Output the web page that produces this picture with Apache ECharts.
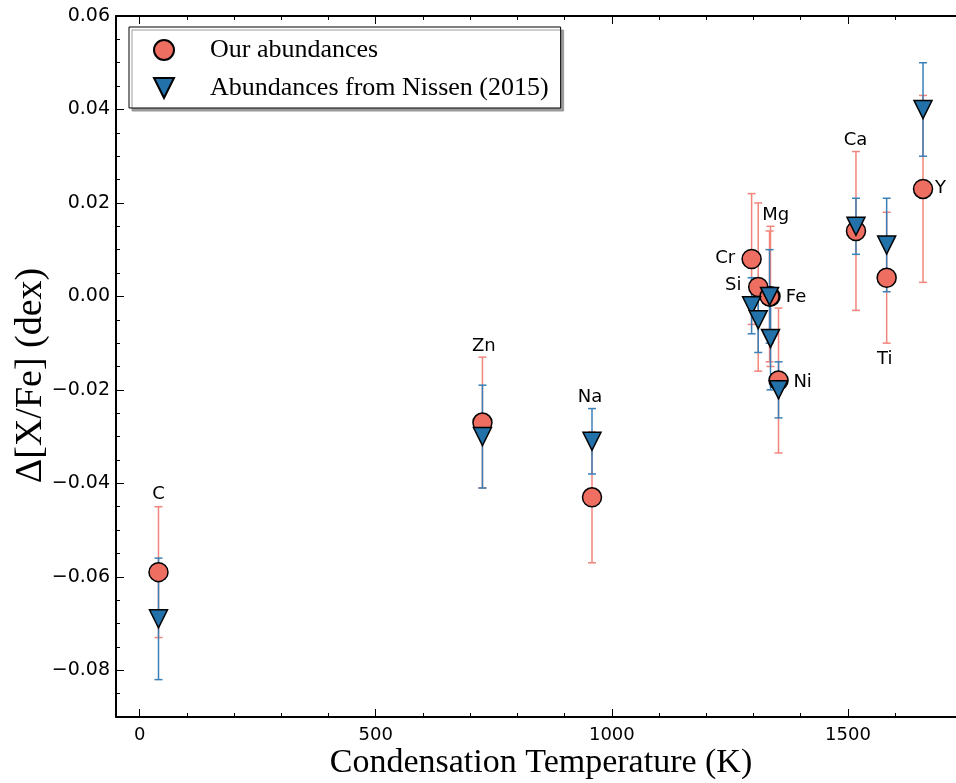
<!DOCTYPE html>
<html>
<head>
<meta charset="utf-8">
<script src="https://cdn.jsdelivr.net/npm/echarts@6/dist/echarts.min.js"></script>
<style>html,body{margin:0;padding:0;background:#fff}#chart{width:956px;height:783px}</style>
</head>
<body>
<div id="chart"></div>
<script>
// ---- data ----
const elements = ['C','Zn','Na','Cr','Si','Mg','Fe','Ni','Ca','Ti','Y'];
const tcond    = [40, 726, 958, 1296, 1310, 1336, 1334, 1353, 1517, 1582, 1659];
const ourVal   = [-0.059, -0.027, -0.043, 0.008, 0.002, 0.000, 0.000, -0.018, 0.014, 0.004, 0.023];
const ourErr   = [0.014, 0.014, 0.014, 0.014, 0.018, 0.015, 0.014, 0.0155, 0.017, 0.014, 0.020];
const nisVal   = [-0.069, -0.030, -0.031, -0.002, -0.005, -0.009, 0.000, -0.020, 0.015, 0.011, 0.040];
const nisErr   = [0.013, 0.011, 0.007, 0.006, 0.007, 0.011, 0.010, 0.006, 0.006, 0.010, 0.010];
// element label anchor positions (data coordinates)
const labelX   = [40, 729, 954, 1240, 1257, 1347, 1390, 1404, 1516, 1578, 1696];
const labelY   = [-0.0423, -0.0106, -0.0215, 0.0082, 0.0024, 0.0174, -0.0003, -0.0183, 0.0335, -0.0134, 0.0232];
// axes ticks
const xMajor = [0, 500, 1000, 1500];
const xMinor = [100, 200, 300, 400, 600, 700, 800, 900, 1100, 1200, 1300, 1400, 1600];
const yMajor = [-0.08, -0.06, -0.04, -0.02, 0.00, 0.02, 0.04, 0.06];
const yMinor = [-0.085, -0.075, -0.07, -0.065, -0.055, -0.05, -0.045, -0.035, -0.03, -0.025,
                -0.015, -0.01, -0.005, 0.005, 0.01, 0.015, 0.025, 0.03, 0.035, 0.045, 0.05, 0.055];
const seriesNames = ['Our abundances', 'Abundances from Nissen (2015)'];

// ---- styles ----
const RED = '#EE6E62', RED_BAR = '#F2857B';
const BLUE = '#2271A8', BLUE_BAR = '#3A7FB6';
const TRI = 'path://M0,0 L10,0 L5,10 Z';
const X0 = -50, X1 = 1750, Y0 = -0.09, Y1 = 0.06;

const fmtY = v => (v < 0 ? '\u2212' : '') + Math.abs(v).toFixed(2);
const fmtX = v => String(Math.round(v));

function errData(vals, errs) {
  return tcond.map((t, i) => [t, vals[i] - errs[i], vals[i] + errs[i]]);
}
function errRender(color) {
  return function (params, api) {
    const x = api.value(0), lo = api.value(1), hi = api.value(2);
    const a = api.coord([x, hi]), b = api.coord([x, lo]);
    const hw = 4;
    const st = { stroke: color, lineWidth: 1.5 };
    return { type: 'group', children: [
      { type: 'line', shape: { x1: a[0], y1: a[1], x2: b[0], y2: b[1] }, style: st },
      { type: 'line', shape: { x1: a[0] - hw, y1: a[1], x2: a[0] + hw, y2: a[1] }, style: st },
      { type: 'line', shape: { x1: b[0] - hw, y1: b[1], x2: b[0] + hw, y2: b[1] }, style: st }
    ]};
  };
}

const axisLineStyle = { lineStyle: { color: '#000', width: 2 } };
function xAx(pos, major, showLine) {
  return {
    type: 'value', min: X0, max: X1, position: pos,
    axisLine: { show: showLine, ...axisLineStyle, onZero: false },
    axisTick: { show: true, inside: true, length: major ? 8 : 4, customValues: major ? xMajor : xMinor,
                lineStyle: { color: '#000', width: 1 } },
    axisLabel: { show: major && pos === 'bottom', customValues: xMajor, formatter: fmtX, color: '#000', fontSize: 18,
                 fontFamily: 'DejaVu Sans', margin: 9 },
    splitLine: { show: false }
  };
}
function yAx(major) {
  return {
    type: 'value', min: Y0, max: Y1, position: 'left',
    axisLine: { show: major, ...axisLineStyle, onZero: false },
    axisTick: { show: true, inside: true, length: major ? 8 : 4, customValues: major ? yMajor : yMinor,
                lineStyle: { color: '#000', width: 1 } },
    axisLabel: { show: major, customValues: yMajor, formatter: fmtY, color: '#000', fontSize: 19,
                 fontFamily: 'DejaVu Sans', margin: 6 },
    splitLine: { show: false }
  };
}

const xAxes = [xAx('bottom', true, true), xAx('bottom', false, false), xAx('top', true, true), xAx('top', false, false)];
xAxes[0].name = 'Condensation Temperature (K)';
xAxes[0].nameLocation = 'middle';
xAxes[0].nameGap = 29;
xAxes[0].nameMoveOverlap = false;
xAxes[0].nameTextStyle = { fontFamily: 'Liberation Serif', fontSize: 34, color: '#000', verticalAlign: 'top' };
const yAxes = [yAx(true), yAx(false)];
yAxes[0].name = '\u0394[X/Fe] (dex)';
yAxes[0].nameLocation = 'middle';
yAxes[0].nameGap = 66;
yAxes[0].nameMoveOverlap = false;
yAxes[0].nameTextStyle = { fontFamily: 'Liberation Serif', fontSize: 38, color: '#000', padding: [0, 18, 0, 0] };

const chart = echarts.init(document.getElementById('chart'), null, { renderer: 'canvas' });
chart.setOption({
  animation: false,
  backgroundColor: '#fff',
  grid: { left: 116, right: -10, top: 16, bottom: 66, containLabel: false, outerBoundsMode: 'none' },
  xAxis: xAxes,
  yAxis: yAxes,
  legend: {
    data: seriesNames,
    orient: 'vertical', left: 129, top: 27,
    padding: [10, 12, 7, 24],
    itemWidth: 20, itemHeight: 20, itemGap: 12,
    backgroundColor: '#fff', borderColor: '#000', borderWidth: 1,
    shadowColor: '#9a9a9a', shadowBlur: 0, shadowOffsetX: 3, shadowOffsetY: 3,
    textStyle: { fontFamily: 'Liberation Serif', fontSize: 26, color: '#000', padding: [0, 0, 0, 31],
                 lineHeight: 20, height: 20 }
  },
  series: [
    { type: 'custom', name: 'ourErr', renderItem: errRender(RED_BAR), data: errData(ourVal, ourErr),
      encode: { x: 0, y: [1, 2] }, z: 1, silent: true },
    { type: 'custom', name: 'nisErr', renderItem: errRender(BLUE_BAR), data: errData(nisVal, nisErr),
      encode: { x: 0, y: [1, 2] }, z: 2, silent: true },
    { type: 'scatter', name: seriesNames[0], symbol: 'circle', symbolSize: 19,
      itemStyle: { color: RED, borderColor: '#000', borderWidth: 1.5, opacity: 1 },
      data: tcond.map((t, i) => [t, ourVal[i]]), z: 3 },
    { type: 'scatter', name: seriesNames[1], symbol: TRI, symbolSize: 18,
      itemStyle: { color: BLUE, borderColor: '#000', borderWidth: 1.5, opacity: 1 },
      data: tcond.map((t, i) => [t, nisVal[i]]), z: 4 },
    { type: 'scatter', name: 'labels', symbolSize: 0, silent: true,
      itemStyle: { color: '#000' },
      data: elements.map((e, i) => ({ name: e, value: [labelX[i], labelY[i]] })),
      label: { show: true, position: 'inside', formatter: '{b}', color: '#000', fontSize: 18,
               fontFamily: 'DejaVu Sans', textBorderWidth: 0, opacity: 1 },
      z: 5 }
  ]
});
</script>
</body>
</html>
